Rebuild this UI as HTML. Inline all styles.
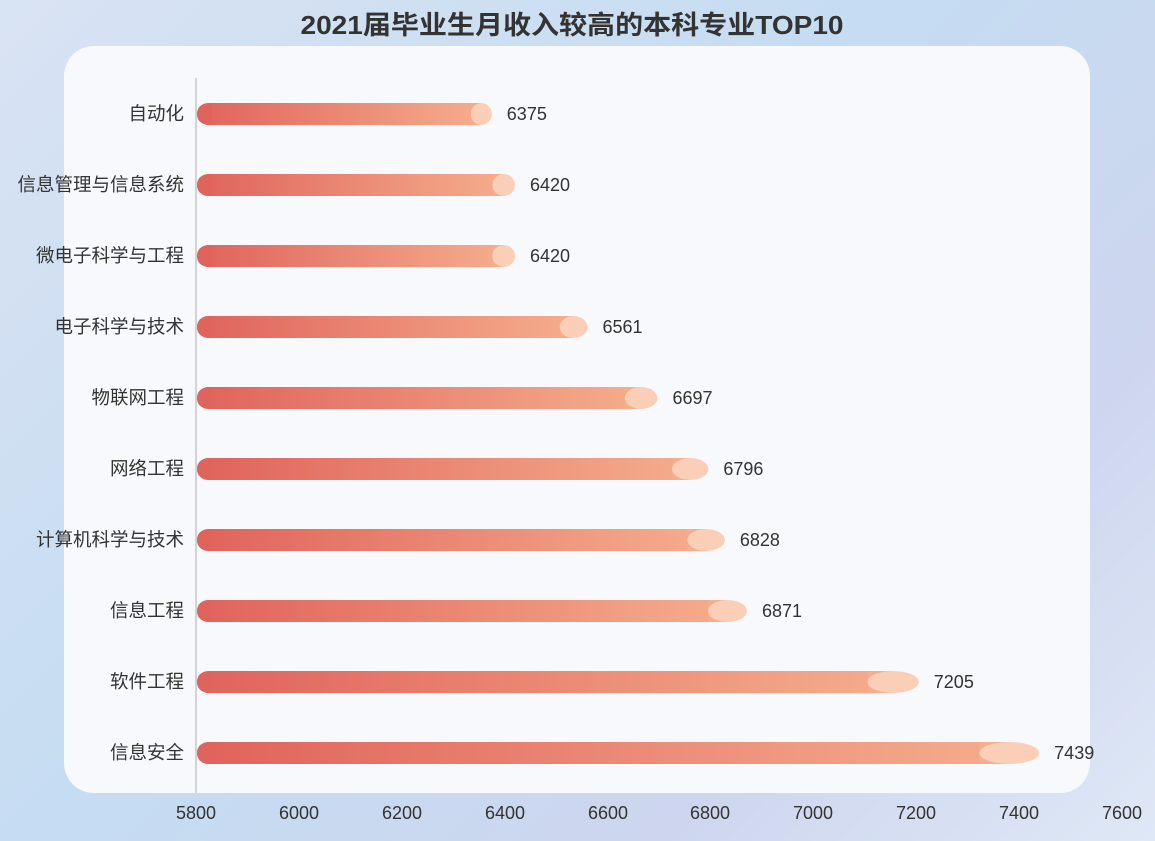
<!DOCTYPE html>
<html><head><meta charset="utf-8"><style>
html,body{margin:0;padding:0}
body{width:1155px;height:841px;overflow:hidden;background:linear-gradient(135deg,#d9e3f3 0%,#c5dcf2 45%,#cdd6ee 75%,#dfe8f6 100%);font-family:"Liberation Sans","Noto Sans CJK SC",sans-serif}
</style></head><body>
<svg width="1155" height="841" xmlns="http://www.w3.org/2000/svg" style="position:absolute;left:0;top:0">
<defs>
<linearGradient id="g" x1="0" x2="1" y1="0" y2="0"><stop offset="0" stop-color="#e0635c"/><stop offset="1" stop-color="#f5ad8c"/></linearGradient>
</defs>
<text x="572" y="34" text-anchor="middle" font-size="26" font-weight="bold" fill="#333" textLength="543" lengthAdjust="spacingAndGlyphs" font-family="Liberation Sans,Noto Sans CJK SC,sans-serif">2021届毕业生月收入较高的本科专业TOP10</text>
<rect x="64" y="46" width="1026" height="747" rx="30" fill="#f8f9fc"/>
<line x1="196" y1="78" x2="196" y2="793" stroke="#d3d3d3" stroke-width="2"/>
<g id="bars" font-size="18.5" fill="#333" font-family="Liberation Sans,Noto Sans CJK SC,sans-serif"></g>
<g font-size="18" fill="#333" text-anchor="middle" font-family="Liberation Sans,sans-serif">
<text x="196" y="819">5800</text><text x="299" y="819">6000</text><text x="402" y="819">6200</text><text x="505" y="819">6400</text><text x="608" y="819">6600</text><text x="710" y="819">6800</text><text x="813" y="819">7000</text><text x="916" y="819">7200</text><text x="1019" y="819">7400</text><text x="1122" y="819">7600</text>
</g>
</svg>
<script>
var d=[["自动化",6375],["信息管理与信息系统",6420],["微电子科学与工程",6420],["电子科学与技术",6561],["物联网工程",6697],["网络工程",6796],["计算机科学与技术",6828],["信息工程",6871],["软件工程",7205],["信息安全",7439]];
var g=document.getElementById("bars"),h="";
d.forEach(function(r,i){var cy=114+i*71,x=196+(r[1]-5800)*926/1800,L=x-197,c=Math.max(20,L*0.071);
h+='<path d="M208 '+(cy-11)+' L'+(x-c/2)+' '+(cy-11)+' L'+(x-c/2)+' '+(cy+11)+' L208 '+(cy+11)+' A11 11 0 0 1 208 '+(cy-11)+' Z" fill="url(#g)"/>';
h+='<path d="M197 '+cy+' Q197 '+(cy-11)+' 212 '+(cy-11)+' L212 '+(cy+11)+' Q197 '+(cy+11)+' 197 '+cy+' Z" fill="#e0635c"/>';
h+='<rect x="'+(x-c)+'" y="'+(cy-11)+'" width="'+(c/2)+'" height="22" fill="#f5ad8c"/>';
h+='<ellipse cx="'+(x-c/2)+'" cy="'+cy+'" rx="'+(c/2)+'" ry="11" fill="#fbcfb7"/>';
h+='<text x="184" y="'+(cy+6)+'" text-anchor="end">'+r[0]+'</text>';
h+='<text x="'+(x+15)+'" y="'+(cy+6)+'" font-size="18">'+r[1]+'</text>';});
g.innerHTML=h;
</script>
</body></html>
